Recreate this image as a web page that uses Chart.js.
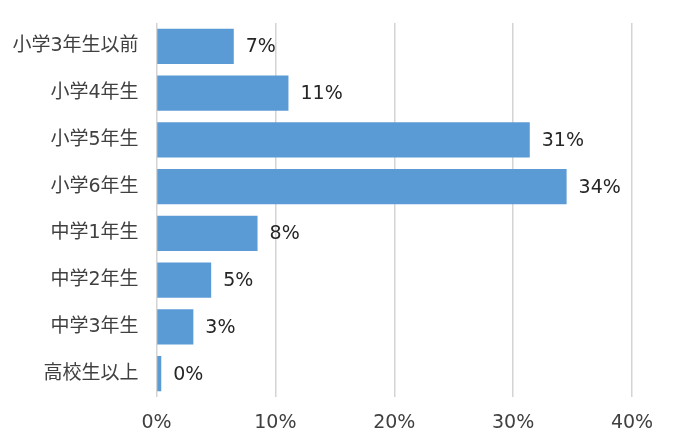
<!DOCTYPE html>
<html>
<head>
<meta charset="utf-8">
<script src="https://cdn.jsdelivr.net/npm/chart.js@4/dist/chart.umd.min.js"></script>
<style>
  html, body { margin: 0; padding: 0; background: #fff; }
  #wrap { width: 676px; height: 447px; }
</style>
</head>
<body>
<div id="wrap"><canvas id="chart" width="676" height="447"></canvas></div>
<script>
// grade categories, share of respondents (%), shown labels
const categories = ['小学3年生以前', '小学4年生', '小学5年生', '小学6年生', '中学1年生', '中学2年生', '中学3年生', '高校生以上'];
const shares = [6.5, 11.1, 31.4, 34.5, 8.5, 4.6, 3.1, 0.4];
const shareLabels = ['7%', '11%', '31%', '34%', '8%', '5%', '3%', '0%'];
const xTicks = [0, 10, 20, 30, 40];

const FONT = '"DejaVu Sans", "Noto Sans CJK JP", sans-serif';

// draw the percentage text just past the end of each bar
const barLabels = {
    id: 'barLabels',
    afterDatasetsDraw(chart) {
        const ctx = chart.ctx;
        const meta = chart.getDatasetMeta(0);
        ctx.save();
        ctx.font = '19px ' + FONT;
        ctx.fillStyle = '#262626';
        ctx.textAlign = 'left';
        ctx.textBaseline = 'middle';
        meta.data.forEach((bar, i) => {
            ctx.fillText(shareLabels[i], bar.x + 12, bar.y + 1);
        });
        ctx.restore();
    }
};

new Chart(document.getElementById('chart').getContext('2d'), {
    type: 'bar',
    data: {
        labels: categories,
        datasets: [{
            data: shares,
            backgroundColor: '#5B9BD5',
            borderWidth: 0,
            categoryPercentage: 1,
            barPercentage: 0.75
        }]
    },
    options: {
        indexAxis: 'y',
        responsive: false,
        animation: false,
        layout: { padding: { top: 23, right: 44, bottom: 0, left: 0 } },
        plugins: {
            legend: { display: false },
            tooltip: { enabled: false }
        },
        scales: {
            x: {
                min: 0,
                max: 40,
                afterBuildTicks: (scale) => { scale.ticks = xTicks.map(v => ({ value: v })); },
                afterFit: (scale) => { scale.height = 50; scale.paddingLeft = 0; scale.paddingRight = 0; },
                grid: { color: '#d4d4d4', lineWidth: 1.5, drawTicks: false },
                border: { display: false },
                ticks: {
                    padding: 15,
                    color: '#404040',
                    font: { family: FONT, size: 19 },
                    callback: v => v + '%'
                }
            },
            y: {
                afterFit: (scale) => { scale.width = 156.5; scale.paddingTop = 0; scale.paddingBottom = 0; },
                grid: { display: false, drawTicks: false },
                border: { display: false },
                ticks: {
                    padding: 18,
                    color: '#404040',
                    font: { family: FONT, size: 19 }
                }
            }
        }
    },
    plugins: [barLabels]
});
</script>
</body>
</html>
